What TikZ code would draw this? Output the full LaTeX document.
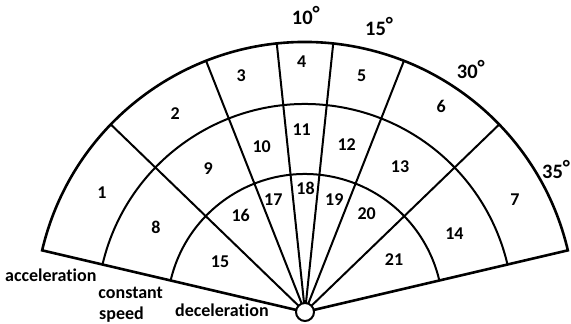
\documentclass[tikz,border=0pt]{standalone}
\usepackage{fontspec}
\setmainfont{Carlito}[Ligatures=NoCommon]
\newcommand{\dg}{\raisebox{4pt}{°}}
\begin{document}
\begin{tikzpicture}[x=1pt,y=1pt,
  inner/.style={line width=2pt},
  outerline/.style={line width=2.6pt},
  num/.style={font=\fontsize{18}{20}\selectfont\bfseries, inner sep=0pt},
  deg/.style={font=\fontsize{20.5}{24}\selectfont\bfseries, inner sep=0pt, anchor=base west},
  side/.style={font=\fontsize{18}{20}\selectfont\bfseries, inner sep=0pt, anchor=base west}]
\useasboundingbox (-305,-12) rectangle (266,312);
\coordinate (O) at (0,0);
\def\Ro{270}\def\Rm{208}\def\Ri{138}
\def\Aa{166.8}\def\Ab{13.2}
% radial lines
\foreach \a in {136,111.5,96,84,68.5,44}
  \draw[inner] (O) -- (\a:\Ro);
% arcs
\draw[inner] (\Aa:\Rm) arc[start angle=\Aa, end angle=\Ab, radius=\Rm];
\draw[inner] (\Aa:\Ri) arc[start angle=\Aa, end angle=\Ab, radius=\Ri];
\draw[outerline, line join=miter] (O) -- (\Aa:\Ro) arc[start angle=\Aa, end angle=\Ab, radius=\Ro] -- cycle;
\draw[line width=2pt, fill=white] (O) circle[radius=9];
% cell numbers
\node[num] (n1) at (-203,119.3) {1};
\node[num] (n2) at (-129.7,198.7) {2};
\node[num] (n3) at (-63.7,236) {3};
\node[num] (n4) at (-3.3,250.3) {4};
\node[num] (n5) at (56.7,236) {5};
\node[num] (n6) at (136.3,205.3) {6};
\node[num] (n7) at (210,112) {7};
\node[num] (n8) at (-149,84.7) {8};
\node[num] (n9) at (-96.7,143.7) {9};
\node[num] (n10) at (-43.3,165.3) {10};
\node[num] (n11) at (-3.3,182) {11};
\node[num] (n12) at (41.7,167) {12};
\node[num] (n13) at (95,145) {13};
\node[num] (n14) at (149.4,78.7) {14};
\node[num] (n15) at (-85,50.3) {15};
\node[num] (n16) at (-64.3,97) {16};
\node[num] (n17) at (-31.7,112) {17};
\node[num] (n18) at (0.5,123.5) {18};
\node[num] (n19) at (29.3,112) {19};
\node[num] (n20) at (61.7,98) {20};
\node[num] (n21) at (89,52) {21};
% degree labels
\node[deg] (d10) at (-13.3,287) {10\dg};
\node[deg] (d15) at (60,276) {15\dg};
\node[deg] (d30) at (151.7,233.7) {30\dg};
\node[deg] (d35) at (237,133.7) {35\dg};
% side labels
\node[side] (acc) at (-300,30.3) {acceleration};
\node[side] (con) at (-206.7,13.7) {constant};
\node[side] (spd) at (-206,-8) {speed};
\node[side] (dec) at (-130,-4.7) {deceleration};
\end{tikzpicture}
\end{document}
